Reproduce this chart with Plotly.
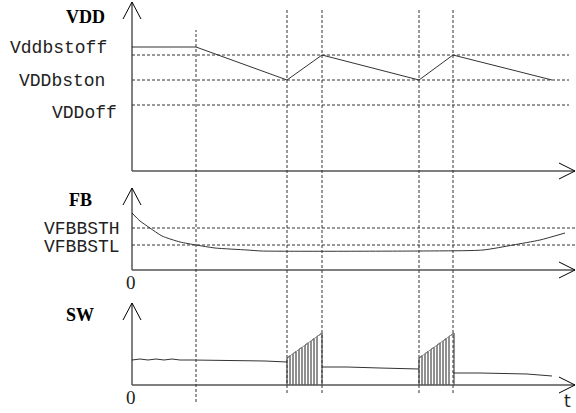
import plotly.graph_objects as go

W, H = 576, 413

# ---------------- data ----------------
event_t = [64, 155, 190, 287, 321]          # vertical marker times

vdd_t = [0, 64, 155, 190, 287, 321, 420]
vdd_v = [12.4, 12.4, 9.1, 11.6, 9.1, 11.6, 9.1]
vdd_level_names = ["Vddbstoff", "VDDbston", "VDDoff"]
vdd_levels = [11.6, 9.1, 6.6]
vdd_label_at = [12.4, 9.1, 6.6]

fb_t = [0, 8, 18, 30, 48, 64, 83, 115, 130, 288, 351, 381, 408, 433]
fb_v = [5.7, 4.9, 4.2, 3.4, 2.8, 2.5, 2.2, 2.0, 1.9, 1.9, 2.0, 2.5, 3.0, 3.7]
fb_level_names = ["VFBBSTH", "VFBBSTL"]
fb_levels = [4.2, 2.5]

sw_t = [0, 8, 16, 24, 32, 40, 48, 60, 133, 155, None, 190, 215, 248, 287, None, 321, 348, 395, 420]
sw_v = [2.5, 2.6, 2.5, 2.6, 2.5, 2.6, 2.5, 2.5, 2.4, 2.3, None, 1.8, 1.8, 1.7, 1.6, None, 1.2, 1.2, 1.1, 0.9]
burst_start = [155, 287]
burst_len = 35
env_lo, env_hi = 2.7, 5.2
pulse_on = [0, 6, 12, 18, 24, 30]
pulse_off = [3, 9, 15, 21, 27, 35]

t_end = 443

# ---------------- layout helpers ----------------
X0 = 132  # pixel of t=0
PPU = 10  # pixels per unit on every y axis
PAD = 1.0  # units of room below zero so the axis line is not clipped


def fy(py):
    return (H - py) / H


def fx(px):
    return px / W


panels = {
    "y": (171, 2, 16.9),
    "y2": (270, 188, 8.2),
    "y3": (385, 303, 8.2),
}

TRACE = "#333333"
DASH = "3px,2px"

fig = go.Figure()

fig.add_trace(go.Scatter(x=vdd_t, y=vdd_v, mode="lines", xaxis="x", yaxis="y",
                         line=dict(color=TRACE, width=1)))
fig.add_trace(go.Scatter(x=fb_t, y=fb_v, mode="lines", xaxis="x2", yaxis="y2",
                         line=dict(color=TRACE, width=1, shape="spline", smoothing=0.6)))
fig.add_trace(go.Scatter(x=sw_t, y=sw_v, mode="lines", xaxis="x3", yaxis="y3",
                         line=dict(color=TRACE, width=1), connectgaps=False))

px_, py_ = [], []
ex, ey = [], []
for s in burst_start:
    for on, off in zip(pulse_on, pulse_off):
        top_on = env_lo + (env_hi - env_lo) * on / burst_len
        top_off = env_lo + (env_hi - env_lo) * off / burst_len
        px_ += [s + on, s + on, s + off, s + off, None]
        py_ += [0, top_on, top_off, 0, None]
    ex += [s, s + burst_len, None]
    ey += [env_lo, env_hi, None]
fig.add_trace(go.Scatter(x=px_, y=py_, mode="lines", xaxis="x3", yaxis="y3",
                         line=dict(color="#222222", width=1), connectgaps=False))
fig.add_trace(go.Scatter(x=ex, y=ey, mode="lines", xaxis="x3", yaxis="y3",
                         line=dict(color="#888888", width=1), connectgaps=False))

shapes = []
annotations = []

# axes with open arrowheads
for i, (yr, (pbot, ptop, top)) in enumerate(panels.items()):
    xr = "x" if yr == "y" else "x" + yr[1:]
    shapes.append(dict(type="line", xref=xr, yref=yr, x0=0, x1=0, y0=0, y1=top,
                       line=dict(color="black", width=1)))
    shapes.append(dict(type="line", xref=xr, yref=yr, x0=0, x1=t_end, y0=0, y1=0,
                       line=dict(color="#555555", width=1.5)))
    shapes.append(dict(type="path", xref=xr, yref=yr, xsizemode="pixel", ysizemode="pixel",
                       xanchor=0, yanchor=top, path="M -9,-17 L 0,0 L 9,-17",
                       line=dict(color="black", width=1)))
    shapes.append(dict(type="path", xref=xr, yref=yr, xsizemode="pixel", ysizemode="pixel",
                       xanchor=t_end, yanchor=0, path="M -16,8 L 0,0 L -16,-8",
                       line=dict(color="black", width=1)))

# threshold dashed lines
for lv in vdd_levels:
    shapes.append(dict(type="line", xref="x", yref="y", x0=0, x1=t_end - 6, y0=lv, y1=lv,
                       line=dict(color=TRACE, width=1, dash=DASH)))
for lv in fb_levels:
    shapes.append(dict(type="line", xref="x2", yref="y2", x0=0, x1=t_end, y0=lv, y1=lv,
                       line=dict(color=TRACE, width=1, dash=DASH)))

# vertical event lines
for i, t in enumerate(event_t):
    top_px = 30 if i == 0 else 8
    bot_px = 402 if i == 0 else 393
    shapes.append(dict(type="line", xref="x", yref="paper", x0=t, x1=t,
                       y0=fy(bot_px), y1=fy(top_px),
                       line=dict(color=TRACE, width=1, dash=DASH)))

MONO = "Liberation Mono"
label_font = dict(family=MONO, size=18, color="#222222")
vdd_label_x = [8, 17, 50]
vdd_label_shift = [-1, -1, -8]
for name, lv, lx, sh in zip(vdd_level_names, vdd_label_at, vdd_label_x, vdd_label_shift):
    annotations.append(dict(text=name, xref="paper", yref="y", x=fx(lx), y=lv, yshift=sh,
                            xanchor="left", yanchor="middle", showarrow=False, font=label_font))
fb_label_shift = [-1, -2]
for name, lv, sh in zip(fb_level_names, fb_levels, fb_label_shift):
    annotations.append(dict(text=name, xref="paper", yref="y2", x=fx(42), y=lv, yshift=sh,
                            xanchor="left", yanchor="middle", showarrow=False, font=label_font))

title_font = dict(family="Liberation Serif", size=18, color="black")
for txt, cx, cy in [("VDD", 85, 17), ("FB", 80, 200), ("SW", 80, 315)]:
    annotations.append(dict(text="<b>%s</b>" % txt, xref="paper", yref="paper", x=fx(cx), y=fy(cy),
                            xanchor="center", yanchor="middle", showarrow=False, font=title_font))

zero_font = dict(family="Liberation Serif", size=19, color="#222222")
for cy in [282, 397]:
    annotations.append(dict(text="0", xref="paper", yref="paper", x=fx(131), y=fy(cy),
                            xanchor="center", yanchor="middle", showarrow=False, font=zero_font))
annotations.append(dict(text="t", xref="paper", yref="paper", x=fx(567), y=fy(401),
                        xanchor="center", yanchor="middle", showarrow=False,
                        font=dict(family="DejaVu Sans", size=17, color="#222222")))

xrange = [-X0, W - X0]
ax_common = dict(showgrid=False, zeroline=False, showticklabels=False, ticks="",
                 showline=False, fixedrange=True)
layout = dict(
    width=W, height=H, margin=dict(l=0, r=0, t=0, b=0),
    paper_bgcolor="white", plot_bgcolor="white", showlegend=False,
    shapes=shapes, annotations=annotations,
)
for yr, (pbot, ptop, top) in panels.items():
    suffix = "" if yr == "y" else yr[1:]
    layout["xaxis" + suffix] = dict(domain=[0, 1], range=xrange, anchor=yr, **ax_common)
    layout["yaxis" + suffix] = dict(domain=[fy(pbot + PAD * PPU), fy(ptop)], range=[-PAD, top],
                                    anchor="x" + suffix, **ax_common)

fig.update_layout(**layout)
fig.write_html("out.html", config={"displayModeBar": False},
               post_script="document.body.style.margin='0';document.body.style.overflow='hidden';")
